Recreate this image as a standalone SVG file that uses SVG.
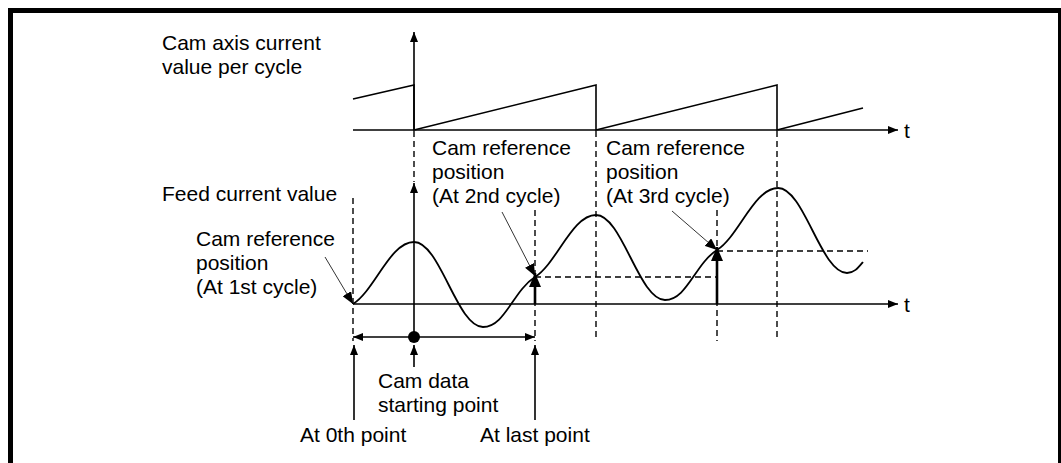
<svg xmlns="http://www.w3.org/2000/svg" width="1061" height="463" viewBox="0 0 1061 463">
<style>
  text { font-family: "Liberation Sans", Arial, sans-serif; font-size: 21px; fill: #000; }
  .ln { stroke: #000; stroke-width: 1.6; fill: none; }
  .dash { stroke: #000; stroke-width: 1.4; fill: none; stroke-dasharray: 6 4; }
  .thin { stroke: #000; stroke-width: 0.8; fill: none; }
  .thick { stroke: #000; stroke-width: 2.6; fill: none; }
  .curve { stroke: #000; stroke-width: 1.8; fill: none; }
  .head { fill: #000; stroke: none; }
</style>
<defs>
  <marker id="ah" markerWidth="10" markerHeight="8" refX="10" refY="4" orient="auto" markerUnits="userSpaceOnUse">
    <path d="M0,0 L10,4 L0,8 Z" class="head"/>
  </marker>
  <marker id="ahs" markerWidth="12" markerHeight="10" refX="12" refY="5" orient="auto" markerUnits="userSpaceOnUse">
    <path d="M0,0 L12,5 L0,10 Z" class="head"/>
  </marker>
  <marker id="ahb" markerWidth="14" markerHeight="12" refX="14" refY="6" orient="auto" markerUnits="userSpaceOnUse">
    <path d="M0,0 L14,6 L0,12 Z" class="head"/>
  </marker>
</defs>

<rect x="10.5" y="10.5" width="1050" height="470" fill="none" stroke="#000" stroke-width="5"/>

<g id="dashed-guides">
  <line class="dash" x1="414" y1="131" x2="414" y2="182"/>
  <line class="dash" x1="596" y1="131" x2="596" y2="341"/>
  <line class="dash" x1="777" y1="131" x2="777" y2="341"/>
  <line class="dash" x1="353" y1="198" x2="353" y2="341"/>
  <line class="dash" x1="535" y1="210" x2="535" y2="341"/>
  <line class="dash" x1="717" y1="210" x2="717" y2="341"/>
  <line class="dash" x1="535" y1="277" x2="717" y2="277"/>
  <line class="dash" x1="717" y1="251" x2="868" y2="251"/>
</g>

<g id="upper-chart">
  <line class="ln" x1="414" y1="130" x2="414" y2="32" marker-end="url(#ah)"/>
  <line class="ln" x1="353" y1="130" x2="898" y2="130" marker-end="url(#ah)"/>
  <path class="ln" d="M353,99 L414,85 L414,130 L596,85 L596,130 L777,85 L777,130 L863,108"/>
  <text x="904" y="138">t</text>
  <text x="162" y="50">Cam axis current</text>
  <text x="162" y="74">value per cycle</text>
</g>

<g id="lower-chart">
  <line class="ln" x1="414" y1="337" x2="414" y2="183" marker-end="url(#ah)"/>
  <line class="ln" x1="353" y1="304" x2="898" y2="304" marker-end="url(#ah)"/>
  <path class="curve" d="M353,304 C375,290 390,242 414,242 C440,242 457,327 483,327 C505,327 513,291 535,277 C557,263 572,215 596,215 C622,215 639,300 665,300 C687,300 695,264 717,250 C739,236 754,188 778,188 C804,188 821,273 847,273 C854,273 858,268 863,262"/>
  <text x="904" y="312">t</text>
  <text x="162" y="201">Feed current value</text>
</g>

<g id="label-1st">
  <text x="196" y="246">Cam reference</text>
  <text x="196" y="270">position</text>
  <text x="196" y="294">(At 1st cycle)</text>
  <line class="thin" x1="325" y1="257" x2="353" y2="304" marker-end="url(#ahs)"/>
</g>

<g id="label-2nd">
  <text x="432" y="155">Cam reference</text>
  <text x="432" y="179">position</text>
  <text x="432" y="203">(At 2nd cycle)</text>
  <line class="thin" x1="502" y1="212" x2="535" y2="276" marker-end="url(#ahs)"/>
  <line class="thick" x1="535" y1="304" x2="535" y2="273" marker-end="url(#ahb)"/>
</g>

<g id="label-3rd">
  <text x="606" y="155">Cam reference</text>
  <text x="606" y="179">position</text>
  <text x="606" y="203">(At 3rd cycle)</text>
  <line class="thin" x1="672" y1="211" x2="717" y2="250" marker-end="url(#ahs)"/>
  <line class="thick" x1="717" y1="304" x2="717" y2="247" marker-end="url(#ahb)"/>
</g>

<g id="cam-data-range">
  <line class="ln" x1="414" y1="337" x2="353" y2="337" marker-end="url(#ah)"/>
  <line class="ln" x1="414" y1="337" x2="535" y2="337" marker-end="url(#ah)"/>
  <circle cx="414" cy="337" r="6" fill="#000"/>
</g>

<g id="bottom-labels">
  <line class="ln" x1="354" y1="420" x2="354" y2="345" marker-end="url(#ah)"/>
  <line class="ln" x1="414" y1="367" x2="414" y2="345" marker-end="url(#ah)"/>
  <line class="ln" x1="535" y1="420" x2="535" y2="345" marker-end="url(#ah)"/>
  <text x="378" y="388">Cam data</text>
  <text x="378" y="412">starting point</text>
  <text x="300" y="442">At 0th point</text>
  <text x="480" y="442">At last point</text>
</g>
</svg>
